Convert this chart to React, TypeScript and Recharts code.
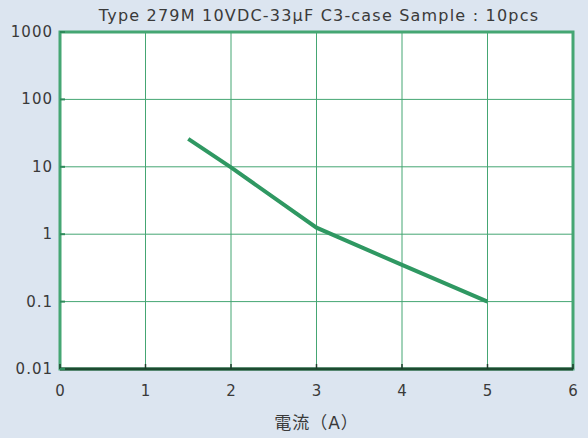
import React from "react";
import {
  LineChart,
  Line,
  XAxis,
  YAxis,
  CartesianGrid,
  ReferenceArea,
  ReferenceLine,
} from "recharts";

const currents = [1.5, 2, 3, 4, 5];
const values = [26, 9.8, 1.25, 0.35, 0.1];
const xTicks = [0, 1, 2, 3, 4, 5, 6];
const yTicks = [0.01, 0.1, 1, 10, 100, 1000];
const title = "Type 279M 10VDC-33μF C3-case Sample : 10pcs";
const xLabel = "電流（A）";

const data = currents.map((x, i) => ({ x, y: values[i] }));

const FONT = "'DejaVu Sans', 'Noto Sans CJK JP', sans-serif";
const GREEN = "#45a673";

const YTick = (props: any) => {
  const { x, y, payload } = props;
  return (
    <g>
      <line x1={60} x2={65} y1={y} y2={y} stroke="#2e8a5a" strokeWidth={2} />
      <text
        x={x + 1}
        y={y}
        dy={5}
        textAnchor="end"
        fontSize={15}
        letterSpacing={1}
        fill="#3a3a3a"
        fontFamily={FONT}
      >
        {String(payload.value)}
      </text>
    </g>
  );
};

const XTick = (props: any) => {
  const { x, y, payload } = props;
  return (
    <g>
      <line x1={x} x2={x} y1={369} y2={364} stroke="#1d3d2b" strokeWidth={1.5} />
      <text
        x={x}
        y={y}
        dy={13}
        textAnchor="middle"
        fontSize={15}
        fill="#3a3a3a"
        fontFamily={FONT}
      >
        {payload.value}
      </text>
    </g>
  );
};

const App: React.FC = () => {
  return (
    <div
      style={{
        position: "absolute",
        left: 0,
        top: 0,
        width: 588,
        height: 438,
        background: "#dce5f0",
        fontFamily: FONT,
      }}
    >
      <div
        style={{
          position: "absolute",
          left: 60,
          width: 518,
          top: 8,
          textAlign: "center",
          fontSize: 16,
          lineHeight: "16px",
          letterSpacing: 1.2,
          color: "#3a3a3a",
          whiteSpace: "nowrap",
        }}
      >
        {title}
      </div>
      <LineChart
        width={588}
        height={438}
        data={data}
        margin={{ top: 32, right: 15, bottom: 0, left: 0 }}
      >
        <CartesianGrid
          fill="#ffffff"
          stroke={GREEN}
          strokeWidth={1}
          horizontalValues={yTicks}
          verticalValues={xTicks}
        />
        <XAxis
          dataKey="x"
          type="number"
          domain={[0, 6]}
          ticks={xTicks}
          height={69}
          tick={<XTick />}
          tickLine={false}
          tickMargin={8}
          axisLine={false}
          label={{
            value: xLabel,
            position: "insideBottom",
            offset: 9,
            fontSize: 17,
            letterSpacing: 1,
            fill: "#3a3a3a",
            fontFamily: FONT,
          }}
        />
        <YAxis
          dataKey="y"
          scale="log"
          domain={[0.01, 1000]}
          ticks={yTicks}
          allowDataOverflow
          width={60}
          tick={<YTick />}
          tickLine={false}
          tickSize={0}
          tickMargin={8}
          axisLine={false}
        />
        <ReferenceArea
          x1={0}
          x2={6}
          y1={0.01}
          y2={1000}
          fill="none"
          stroke={GREEN}
          strokeWidth={3}
          ifOverflow="visible"
        />
        <Line
          type="linear"
          dataKey="y"
          stroke="#2f9862"
          strokeWidth={4}
          dot={false}
          isAnimationActive={false}
        />
        <ReferenceLine
          y={0.01}
          stroke="#1d4a30"
          strokeWidth={3}
          ifOverflow="visible"
        />
      </LineChart>
    </div>
  );
};

export default App;
